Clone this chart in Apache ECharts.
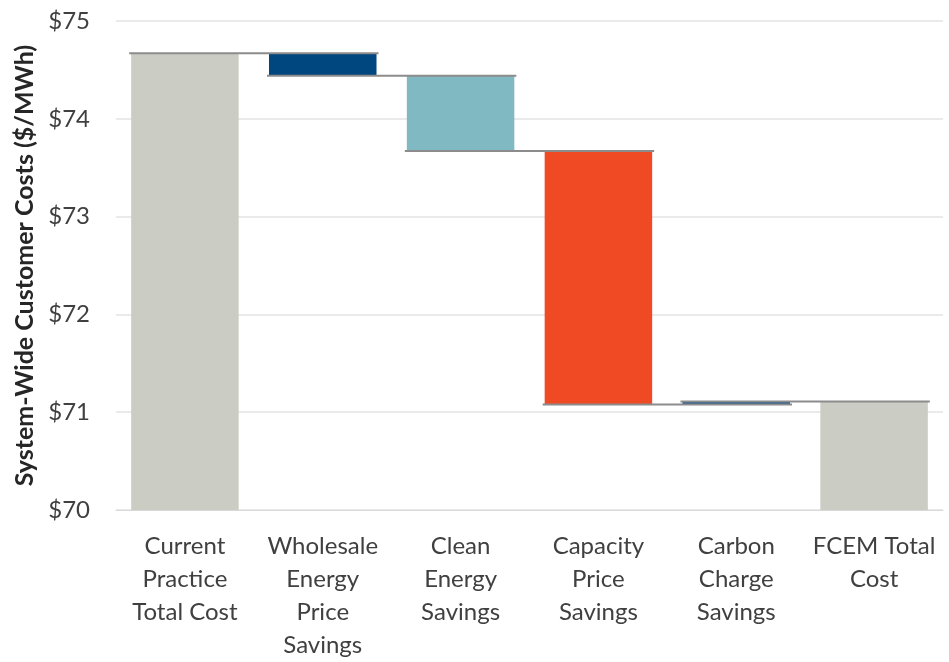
<!DOCTYPE html>
<html>
<head>
<meta charset="utf-8">
<script src="https://cdn.jsdelivr.net/npm/echarts@6/dist/echarts.min.js"></script>
<style>
  html, body { margin: 0; padding: 0; background: #fff; }
  #chart { width: 949px; height: 662px; }
</style>
</head>
<body>
<div id="chart"></div>
<script>
// waterfall data, $/MWh
const categories = [
  'Current\nPractice\nTotal Cost',
  'Wholesale\nEnergy\nPrice\nSavings',
  'Clean\nEnergy\nSavings',
  'Capacity\nPrice\nSavings',
  'Carbon\nCharge\nSavings',
  'FCEM Total\nCost'
]
const startTotal = 74.67
const changes = [-0.23, -0.77, -2.59, 0.03]
const endTotal = 71.11
const barColors = ['#cbccc4', '#00467f', '#80b9c1', '#f04a24', '#1a5592', '#cbccc4']
const yTicks = [70, 71, 72, 73, 74, 75]

// build stacked base/height + connector levels
const baseData = []
const heightData = []
const levels = []
let running = startTotal
baseData.push(0)
heightData.push(startTotal)
levels.push(running)
changes.forEach(function (d) {
  const next = running + d
  baseData.push(Math.min(running, next))
  heightData.push(Math.abs(d))
  running = next
  levels.push(running)
})
baseData.push(0)
heightData.push(endTotal)

const barPct = 0.78
const labelFont = 'Lato, "Liberation Sans", sans-serif'

const chart = echarts.init(document.getElementById('chart'))
chart.setOption({
  animation: false,
  grid: { left: 116, right: 6, top: 21, bottom: 151 },
  xAxis: {
    type: 'category',
    data: categories,
    axisLine: { lineStyle: { color: '#d9d9d9', width: 1 } },
    axisTick: { show: false },
    axisLabel: {
      interval: 0,
      margin: 20,
      color: '#404040',
      fontSize: 24,
      lineHeight: 33,
      fontFamily: labelFont
    }
  },
  yAxis: {
    type: 'value',
    min: yTicks[0],
    max: yTicks[yTicks.length - 1],
    interval: 1,
    name: 'System-Wide Customer Costs ($/MWh)',
    nameLocation: 'middle',
    nameGap: 74,
    nameTextStyle: {
      color: '#262626',
      fontSize: 25,
      fontWeight: 'bold',
      fontFamily: labelFont
    },
    axisLabel: {
      margin: 26,
      color: '#404040',
      fontSize: 24,
      fontFamily: labelFont,
      formatter: function (v) { return '$' + v }
    },
    splitLine: { lineStyle: { color: '#e3e3e3', width: 1.5 } }
  },
  series: [
    {
      type: 'bar',
      stack: 'wf',
      barWidth: (barPct * 100) + '%',
      itemStyle: { color: 'transparent' },
      data: baseData,
      silent: true
    },
    {
      type: 'bar',
      stack: 'wf',
      barWidth: (barPct * 100) + '%',
      data: heightData.map(function (v, i) {
        return { value: v, itemStyle: { color: barColors[i] } }
      })
    },
    {
      type: 'custom',
      z: 5,
      data: levels.map(function (v, i) { return [i, v] }),
      renderItem: function (params, api) {
        const i = api.value(0)
        const lv = api.value(1)
        const p0 = api.coord([i, lv])
        const p1 = api.coord([i + 1, lv])
        const bw = api.size([1, 0])[0] * barPct
        return {
          type: 'line',
          shape: { x1: p0[0] - bw / 2 - 2, y1: p0[1], x2: p1[0] + bw / 2 + 2, y2: p1[1] },
          style: { stroke: '#8c8c8c', lineWidth: 2 }
        }
      }
    }
  ]
})
window.addEventListener('resize', function () {
  chart.resize()
})
</script>
</body>
</html>
